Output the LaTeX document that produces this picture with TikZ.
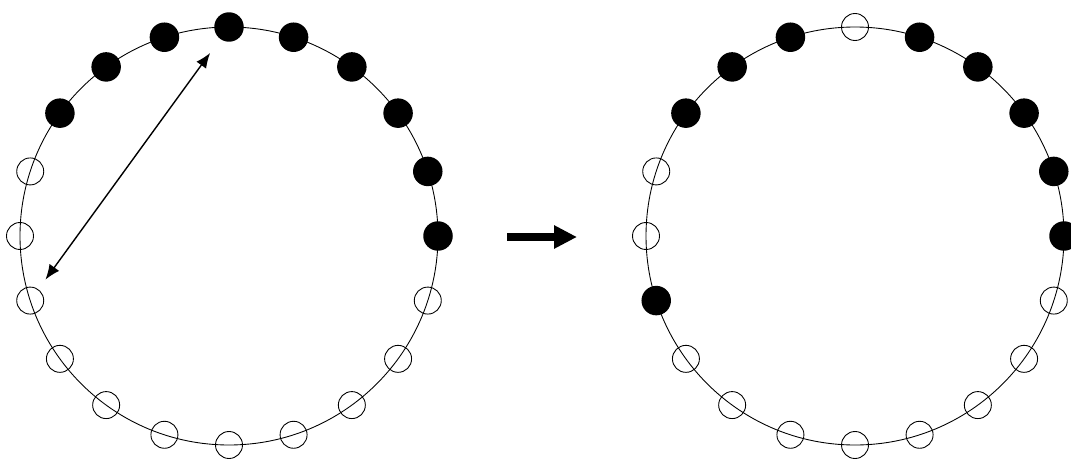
\documentclass[tikz,border=0pt]{standalone}
\usetikzlibrary{arrows.meta,calc}
\begin{document}
\begin{tikzpicture}[x=0.02cm,y=0.02cm,
 on/.style={circle,fill=black,inner sep=0pt,minimum size=0.59cm},
 off/.style={circle,draw,line width=0.5pt,inner sep=0pt,minimum size=0.54cm},
 ring/.style={line width=0.5pt},
 ar/.style={{Latex[length=3mm,width=2.4mm]}-{Latex[length=3mm,width=2.4mm]},line width=0.8pt},
 big/.style={-{Triangle[length=0.46cm,width=0.44cm]},line width=4.5pt}]
\useasboundingbox (0,0) rectangle (1071,464);
\coordinate (CL) at (229,228);
\coordinate (CR) at (855,228);
\draw[ring] (CL) circle[radius=209];
\draw[ring] (CR) circle[radius=209];
% left ring
\foreach \i [evaluate=\i as \a using 18*\i] in {0,...,8}
  \node[on] (L\i) at ($(CL)+(\a:209)$) {};
\foreach \i [evaluate=\i as \a using 18*\i] in {9,...,19}
  \node[off] (L\i) at ($(CL)+(\a:209)$) {};
% right ring
\foreach \i [evaluate=\i as \a using 18*\i] in {0,1,2,3,4,6,7,8,11}
  \node[on] (R\i) at ($(CR)+(\a:209)$) {};
\foreach \i [evaluate=\i as \a using 18*\i] in {5,9,10,12,13,14,15,16,17,18,19}
  \node[off] (R\i) at ($(CR)+(\a:209)$) {};
\draw[ar,shorten <=0.34cm,shorten >=0.24cm] (L5) -- (L11);
\coordinate (M1) at (507,227);
\coordinate (M2) at (577,227);
\draw[big] (M1) -- (M2);
\end{tikzpicture}
\end{document}
